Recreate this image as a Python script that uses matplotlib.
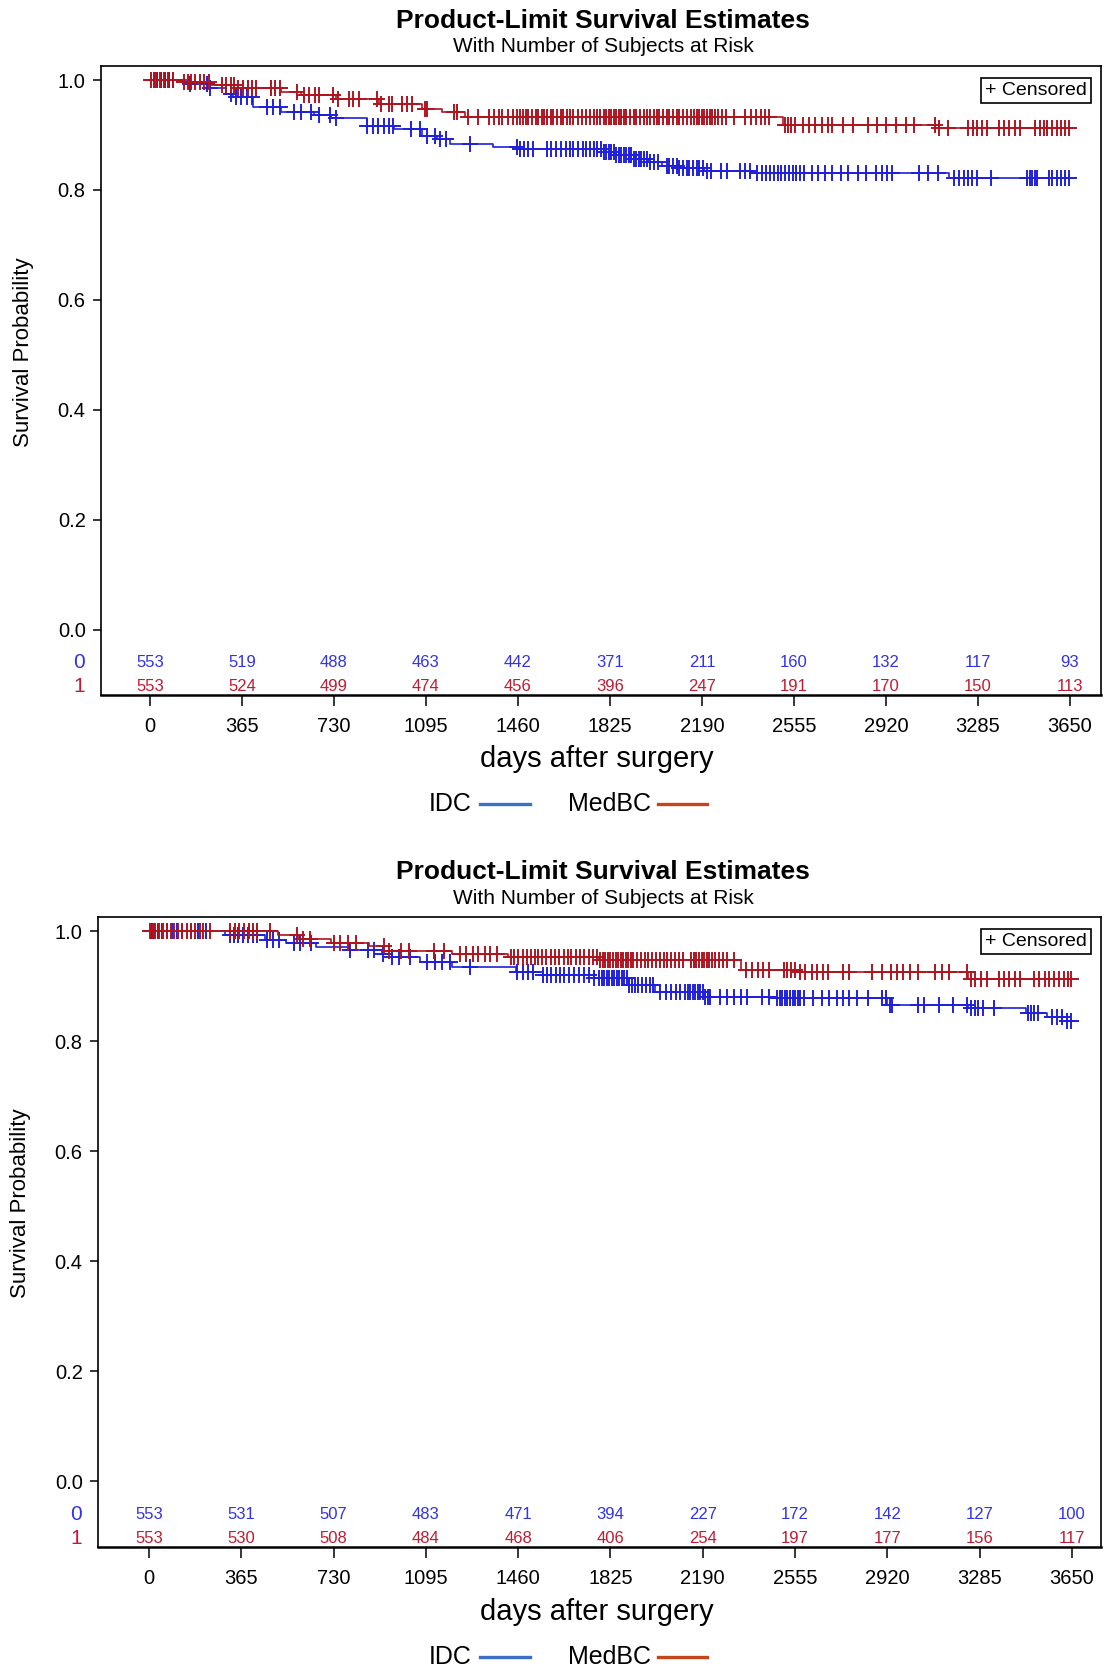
import numpy as np
import matplotlib
matplotlib.use('Agg')
import matplotlib.pyplot as plt
from matplotlib.lines import Line2D

plt.rcParams['font.family'] = ['Liberation Sans', 'DejaVu Sans']

DAY_TICKS = [0, 365, 730, 1095, 1460, 1825, 2190, 2555, 2920, 3285, 3650]
END_DAY = 3650

# ---------------- top panel ----------------
top_idc_times = [0, 150, 230, 300, 330, 410, 520, 650, 720, 860, 970, 1080, 1140,
                 1190, 1360, 1470, 1800, 1850, 1920, 1980, 2030, 2100, 2200, 2390, 3170]
top_idc_surv = [1.0, 0.993, 0.985, 0.975, 0.969, 0.951, 0.942, 0.936, 0.930, 0.917, 0.911,
                0.899, 0.892, 0.884, 0.878, 0.875, 0.869, 0.863, 0.856, 0.850, 0.844,
                0.840, 0.835, 0.830, 0.821]
top_idc_cens = [15, 30, 45, 60, 75, 90, 160, 225, 238, 320, 340, 360, 385, 405, 465, 490, 515,
                570, 600, 640, 670, 715, 740, 860, 885, 905, 930, 950, 965, 1035, 1070,
                1100, 1130, 1150, 1175, 1270, 1455, 1470, 1485, 1500, 1520, 1575, 1590,
                1610, 1630, 1650, 1665, 1680, 1700, 1720, 1730, 1745, 1760, 1775, 1790,
                1800, 1810, 1820, 1830, 1840, 1850, 1860, 1870, 1880, 1890, 1900, 1910,
                1920, 1930, 1940, 1950, 1960, 1970, 1985, 2000, 2015, 2050, 2060, 2075,
                2090, 2100, 2115, 2130, 2140, 2155, 2170, 2180, 2195, 2210, 2225, 2265,
                2290, 2340, 2360, 2380, 2410, 2430, 2445, 2460, 2475, 2490, 2505, 2520,
                2535, 2550, 2565, 2580, 2595, 2625, 2650, 2680, 2705, 2740, 2770, 2810,
                2840, 2880, 2905, 2925, 2945, 3050, 3085, 3125, 3190, 3210, 3230, 3245,
                3260, 3280, 3335, 3480, 3490, 3500, 3510, 3520, 3565, 3580, 3600, 3615,
                3630, 3645]

top_med_times = [0, 130, 240, 350, 520, 600, 740, 910, 1080, 1160, 1250, 2510, 3130]
top_med_surv = [1.0, 0.996, 0.991, 0.985, 0.979, 0.972, 0.966, 0.957, 0.948, 0.942,
                0.933, 0.919, 0.912]
top_med_cens = [5, 15, 25, 40, 55, 70, 90, 135, 150, 165, 180, 200, 215, 235, 285, 300,
                320, 335, 350, 370, 390, 405, 420, 480, 495, 515, 585, 610, 630, 655, 670,
                725, 745, 790, 805, 830, 900, 915, 950, 960, 1000, 1020, 1040, 1090, 1100,
                1205, 1220, 1260, 1300, 1345, 1365, 1385, 1395, 1420, 1440, 1455, 1470,
                1480, 1490, 1500, 1515, 1530, 1540, 1555, 1565, 1575, 1590, 1600, 1615,
                1630, 1640, 1655, 1665, 1680, 1700, 1715, 1730, 1745, 1760, 1775, 1785,
                1800, 1810, 1820, 1830, 1840, 1850, 1860, 1870, 1880, 1890, 1905, 1920,
                1930, 1945, 1960, 1970, 1985, 2000, 2010, 2020, 2035, 2050, 2060, 2075,
                2090, 2100, 2115, 2130, 2145, 2160, 2170, 2180, 2190, 2200, 2210, 2220,
                2230, 2240, 2255, 2270, 2285, 2316, 2360, 2385, 2405, 2425, 2442, 2455,
                2520, 2530, 2545, 2560, 2590, 2615, 2640, 2665, 2690, 2705, 2750, 2790,
                2850, 2885, 2920, 2960, 3000, 3030, 3115, 3130, 3165, 3245, 3265, 3280,
                3300, 3320, 3370, 3390, 3410, 3430, 3450, 3510, 3530, 3545, 3560, 3580,
                3600, 3615, 3630, 3645]

top_risk_idc = [553, 519, 488, 463, 442, 371, 211, 160, 132, 117, 93]
top_risk_med = [553, 524, 499, 474, 456, 396, 247, 191, 170, 150, 113]

# ---------------- bottom panel ----------------
bot_idc_times = [0, 300, 460, 540, 660, 790, 920, 960, 1070, 1200, 1450, 1560, 1760,
                 1900, 2000, 2200, 2480, 2920, 3240, 3470, 3550, 3630]
bot_idc_surv = [1.0, 0.993, 0.984, 0.978, 0.971, 0.965, 0.959, 0.953, 0.944, 0.935,
                0.926, 0.920, 0.914, 0.902, 0.890, 0.881, 0.878, 0.866, 0.860, 0.851,
                0.844, 0.836]
bot_idc_cens = [10, 20, 35, 50, 70, 90, 110, 130, 165, 195, 225, 320, 335, 350, 370, 390,
                410, 425, 465, 490, 515, 575, 595, 640, 795, 865, 890, 925, 960, 990, 1032,
                1100, 1130, 1160, 1190, 1269, 1455, 1480, 1500, 1520, 1560, 1575, 1590,
                1610, 1625, 1640, 1660, 1680, 1700, 1720, 1740, 1760, 1780, 1790, 1800,
                1810, 1820, 1830, 1840, 1850, 1860, 1870, 1880, 1890, 1900, 1910, 1920,
                1935, 1950, 1965, 1980, 1995, 2020, 2045, 2065, 2085, 2100, 2120, 2130,
                2140, 2150, 2160, 2170, 2180, 2190, 2200, 2210, 2220, 2260, 2285, 2315,
                2340, 2365, 2425, 2450, 2485, 2495, 2505, 2515, 2525, 2535, 2545, 2555,
                2565, 2575, 2590, 2625, 2660, 2690, 2720, 2745, 2770, 2801, 2843, 2900,
                2915, 2930, 2940, 3040, 3065, 3125, 3180, 3235, 3250, 3265, 3280, 3300,
                3340, 3475, 3490, 3500, 3515, 3570, 3590, 3610, 3630, 3645]

bot_med_times = [0, 510, 590, 720, 870, 950, 1200, 1420, 1780, 2340, 2560, 3240]
bot_med_surv = [1.0, 0.992, 0.985, 0.978, 0.973, 0.963, 0.959, 0.953, 0.947, 0.930,
                0.925, 0.913]
bot_med_cens = [5, 15, 25, 40, 55, 70, 85, 100, 115, 130, 150, 165, 180, 200, 215, 240,
                320, 340, 355, 375, 395, 410, 425, 478, 585, 610, 635, 730, 755, 785, 820,
                930, 950, 995, 1030, 1125, 1165, 1230, 1255, 1280, 1300, 1330, 1350, 1375,
                1430, 1445, 1460, 1480, 1495, 1510, 1525, 1540, 1555, 1570, 1590, 1605,
                1620, 1640, 1655, 1670, 1690, 1705, 1720, 1740, 1755, 1770, 1785, 1795,
                1805, 1815, 1825, 1835, 1845, 1855, 1865, 1875, 1885, 1895, 1905, 1915,
                1930, 1945, 1960, 1975, 1990, 2005, 2020, 2035, 2050, 2065, 2080, 2095,
                2110, 2145, 2155, 2165, 2175, 2185, 2195, 2205, 2215, 2225, 2240, 2255,
                2270, 2285, 2312, 2360, 2385, 2410, 2430, 2450, 2510, 2525, 2540, 2555,
                2575, 2595, 2620, 2640, 2665, 2685, 2745, 2770, 2860, 2900, 2935, 2960,
                2980, 3010, 3040, 3110, 3135, 3165, 3235, 3250, 3265, 3290, 3315, 3360,
                3380, 3400, 3425, 3445, 3500, 3520, 3545, 3560, 3580, 3600, 3620, 3635,
                3648]

bot_risk_idc = [553, 531, 507, 483, 471, 394, 227, 172, 142, 127, 100]
bot_risk_med = [553, 530, 508, 484, 468, 406, 254, 197, 177, 156, 117]

BLUE = '#2020dc'
RED = '#b0141f'
BLUE_TXT = '#3232e6'
RED_TXT = '#c21a32'
LEG_BLUE = '#3a70c8'
LEG_RED = '#c4461a'

W, H = 1104, 1673


def step_at(times, surv, t):
    idx = np.searchsorted(times, t, side='right') - 1
    return np.asarray(surv)[idx]


def draw_curve(ax, times, surv, cens, color):
    xs = list(times) + [END_DAY]
    ys = list(surv) + [surv[-1]]
    ax.step(xs, ys, where='post', color=color, lw=1.2, zorder=3)
    cy = step_at(times, surv, np.asarray(cens))
    ax.plot(cens, cy, ls='none', marker='+', ms=11, mew=1.4, color=color, zorder=3)


def draw_panel(ax, curves, risk_idc, risk_med, xlim):
    for times, surv, cens, color in curves:
        draw_curve(ax, times, surv, cens, color)

    ax.set_xlim(*xlim)
    ax.set_ylim(-0.119, 1.0255)
    ax.set_yticks([0.0, 0.2, 0.4, 0.6, 0.8, 1.0])
    ax.set_yticklabels(['0.0', '0.2', '0.4', '0.6', '0.8', '1.0'])
    ax.set_xticks(DAY_TICKS)
    ax.set_xticklabels([str(d) for d in DAY_TICKS])
    ax.tick_params(axis='x', direction='out', length=8, width=1.1, pad=8, labelsize=14.5)
    ax.tick_params(axis='y', direction='out', length=6, width=1.1, pad=5, labelsize=14.5)
    for sp in ax.spines.values():
        sp.set_linewidth(1.2)
    ax.spines['bottom'].set_linewidth(1.8)

    ax.set_ylabel('Survival Probability', fontsize=16)
    ax.yaxis.set_label_coords(-0.067, 0.545)

    # number at risk rows inside the axes
    for d, n0, n1 in zip(DAY_TICKS, risk_idc, risk_med):
        ax.text(d, -0.060, str(n0), color=BLUE_TXT, fontsize=12, ha='center', va='center')
        ax.text(d, -0.103, str(n1), color=RED_TXT, fontsize=12, ha='center', va='center')
    trans = ax.get_yaxis_transform()
    ax.text(-0.022, -0.060, '0', color=BLUE_TXT, fontsize=15, ha='center', va='center',
            transform=trans)
    ax.text(-0.022, -0.103, '1', color=RED_TXT, fontsize=15, ha='center', va='center',
            transform=trans)

    ax.text(0.986, 0.975, '+ Censored', transform=ax.transAxes, fontsize=14,
            ha='right', va='top',
            bbox=dict(boxstyle='square,pad=0.2', fc='white', ec='black', lw=1.2))


def add_headers(fig, y_title, y_sub, y_xlabel, y_legend):
    fig.text(603 / W, 1 - y_title / H, 'Product-Limit Survival Estimates',
             fontsize=19, fontweight='bold', ha='center', va='center')
    fig.text(603 / W, 1 - y_sub / H, 'With Number of Subjects at Risk',
             fontsize=15, ha='center', va='center')
    fig.text(597 / W, 1 - y_xlabel / H, 'days after surgery',
             fontsize=21, ha='center', va='center')
    yl = 1 - y_legend / H
    fig.text(450 / W, yl, 'IDC', fontsize=18, ha='center', va='center')
    fig.add_artist(Line2D([480 / W, 530 / W], [yl, yl], color=LEG_BLUE, lw=2.4))
    fig.text(610 / W, yl, 'MedBC', fontsize=18, ha='center', va='center')
    fig.add_artist(Line2D([658 / W, 707 / W], [yl, yl], color=LEG_RED, lw=2.4))


def plot_survival():
    fig = plt.figure(figsize=(W / 100, H / 100), dpi=100)

    ax1 = fig.add_axes([101 / W, 1 - 695 / H, 1000 / W, 629 / H])
    draw_panel(ax1,
               [(top_idc_times, top_idc_surv, top_idc_cens, BLUE),
                (top_med_times, top_med_surv, top_med_cens, RED)],
               top_risk_idc, top_risk_med, (-194, 3773))
    add_headers(fig, 21, 47, 759, 804)

    ax2 = fig.add_axes([98 / W, 1 - 1547 / H, 1003 / W, 630 / H])
    draw_panel(ax2,
               [(bot_idc_times, bot_idc_surv, bot_idc_cens, BLUE),
                (bot_med_times, bot_med_surv, bot_med_cens, RED)],
               bot_risk_idc, bot_risk_med, (-202, 3765))
    add_headers(fig, 872, 898, 1612, 1657)

    fig.savefig('out.png', dpi=100)


if __name__ == "__main__":
    plot_survival()
